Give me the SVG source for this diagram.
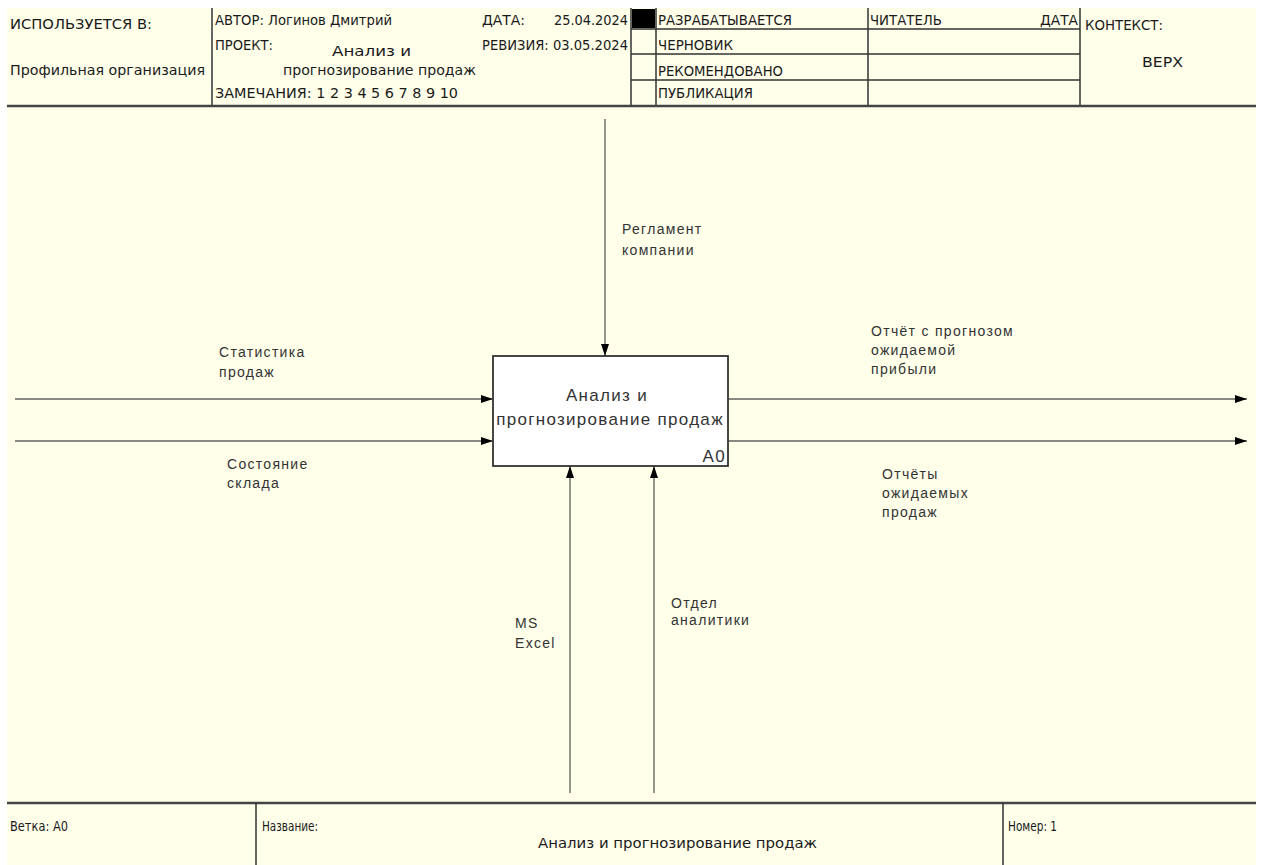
<svg xmlns="http://www.w3.org/2000/svg" width="1261" height="865" viewBox="0 0 1261 865">
<defs>
<marker id="arr" viewBox="0 0 12 8" refX="12" refY="4" markerWidth="12" markerHeight="8" markerUnits="userSpaceOnUse" orient="auto"><path d="M0,0 L12,4 L0,8 z" fill="#000"/></marker>
</defs>
<style>
.hdr{font-family:"DejaVu Sans",sans-serif;font-size:14px;fill:#1a1a1a}
.ftr{font-family:"DejaVu Sans",sans-serif;font-size:14.5px;fill:#1a1a1a}
.lbl{font-family:"Liberation Sans",Arial,sans-serif;font-size:14px;letter-spacing:1.3px;fill:#333}
.boxt{font-family:"Liberation Sans",Arial,sans-serif;font-size:17px;letter-spacing:1.3px;fill:#333}
.frame{stroke:#333;stroke-width:1.5;fill:none}
.thick{stroke:#444;stroke-width:2.5;fill:none}
.conn{stroke:#8a8a82;stroke-width:1.8;fill:none}
</style>
<rect x="0" y="0" width="1261" height="865" fill="#ffffff"/>
<rect x="7" y="8" width="1249" height="857" fill="#FFFFEA"/>

<g id="header">
  <line class="frame" x1="212" y1="8" x2="212" y2="106"/>
  <line class="frame" x1="631" y1="8" x2="631" y2="106"/>
  <line class="frame" x1="656" y1="8" x2="656" y2="106"/>
  <line class="frame" x1="868" y1="8" x2="868" y2="106"/>
  <line class="frame" x1="1080" y1="8" x2="1080" y2="106"/>
  <line class="frame" x1="631" y1="29" x2="1080" y2="29"/>
  <line class="frame" x1="631" y1="54" x2="1080" y2="54"/>
  <line class="frame" x1="631" y1="80" x2="1080" y2="80"/>
  <rect x="632" y="9" width="23" height="19" fill="#000"/>
  <line class="thick" x1="7" y1="106" x2="1256" y2="106"/>
  <text class="hdr" x="10" y="29" textLength="142" lengthAdjust="spacingAndGlyphs">ИСПОЛЬЗУЕТСЯ В:</text>
  <text class="hdr" x="10" y="75" textLength="195" lengthAdjust="spacingAndGlyphs">Профильная организация</text>
  <text class="hdr" x="215" y="25" textLength="177" lengthAdjust="spacingAndGlyphs">АВТОР: Логинов Дмитрий</text>
  <text class="hdr" x="215" y="50" textLength="58" lengthAdjust="spacingAndGlyphs">ПРОЕКТ:</text>
  <text class="hdr" x="332" y="56" textLength="79" lengthAdjust="spacingAndGlyphs">Анализ и</text>
  <text class="hdr" x="283" y="75" textLength="193" lengthAdjust="spacingAndGlyphs">прогнозирование продаж</text>
  <text class="hdr" x="215" y="98" textLength="243" lengthAdjust="spacingAndGlyphs">ЗАМЕЧАНИЯ:  1 2 3 4 5 6 7 8 9 10</text>
  <text class="hdr" x="482" y="25" textLength="43" lengthAdjust="spacingAndGlyphs">ДАТА:</text>
  <text class="hdr" x="554" y="25" textLength="74" lengthAdjust="spacingAndGlyphs">25.04.2024</text>
  <text class="hdr" x="482" y="50" textLength="146" lengthAdjust="spacingAndGlyphs">РЕВИЗИЯ: 03.05.2024</text>
  <text class="hdr" x="658" y="25" textLength="134" lengthAdjust="spacingAndGlyphs">РАЗРАБАТЫВАЕТСЯ</text>
  <text class="hdr" x="658" y="50" textLength="75" lengthAdjust="spacingAndGlyphs">ЧЕРНОВИК</text>
  <text class="hdr" x="658" y="76" textLength="125" lengthAdjust="spacingAndGlyphs">РЕКОМЕНДОВАНО</text>
  <text class="hdr" x="658" y="98" textLength="95" lengthAdjust="spacingAndGlyphs">ПУБЛИКАЦИЯ</text>
  <text class="hdr" x="870" y="25" textLength="72" lengthAdjust="spacingAndGlyphs">ЧИТАТЕЛЬ</text>
  <text class="hdr" x="1040" y="25" textLength="38" lengthAdjust="spacingAndGlyphs">ДАТА</text>
  <text class="hdr" x="1085" y="30" textLength="78" lengthAdjust="spacingAndGlyphs">КОНТЕКСТ:</text>
  <text class="hdr" x="1142" y="67" textLength="41" lengthAdjust="spacingAndGlyphs">ВЕРХ</text>
</g>

<g id="footer">
  <line class="thick" x1="7" y1="803" x2="1256" y2="803"/>
  <line class="frame" x1="256" y1="803" x2="256" y2="865"/>
  <line class="frame" x1="1003" y1="803" x2="1003" y2="865"/>
  <text class="ftr" x="10" y="831" textLength="58" lengthAdjust="spacingAndGlyphs">Ветка: A0</text>
  <text class="ftr" x="262" y="831" textLength="56" lengthAdjust="spacingAndGlyphs">Название:</text>
  <text class="ftr" x="538" y="848" textLength="279" lengthAdjust="spacingAndGlyphs">Анализ и прогнозирование продаж</text>
  <text class="ftr" x="1008" y="831" textLength="49" lengthAdjust="spacingAndGlyphs">Номер: 1</text>
</g>

<g id="connectors">
  <line class="conn" x1="605" y1="119" x2="605" y2="356" marker-end="url(#arr)"/>
  <line class="conn" x1="15" y1="399" x2="493" y2="399" marker-end="url(#arr)"/>
  <line class="conn" x1="15" y1="441" x2="493" y2="441" marker-end="url(#arr)"/>
  <line class="conn" x1="728" y1="399" x2="1247" y2="399" marker-end="url(#arr)"/>
  <line class="conn" x1="728" y1="441" x2="1247" y2="441" marker-end="url(#arr)"/>
  <line class="conn" x1="570" y1="793" x2="570" y2="466" marker-end="url(#arr)"/>
  <line class="conn" x1="654" y1="793" x2="654" y2="466" marker-end="url(#arr)"/>
  <g id="connector-labels">
    <text class="lbl" x="622" y="234">Регламент</text>
    <text class="lbl" x="622" y="255">компании</text>
    <text class="lbl" x="219" y="357">Статистика</text>
    <text class="lbl" x="219" y="377">продаж</text>
    <text class="lbl" x="227" y="469">Состояние</text>
    <text class="lbl" x="227" y="488">склада</text>
    <text class="lbl" x="871" y="336">Отчёт с прогнозом</text>
    <text class="lbl" x="871" y="355">ожидаемой</text>
    <text class="lbl" x="871" y="374">прибыли</text>
    <text class="lbl" x="882" y="479">Отчёты</text>
    <text class="lbl" x="882" y="498">ожидаемых</text>
    <text class="lbl" x="882" y="517">продаж</text>
    <text class="lbl" x="515" y="628">MS</text>
    <text class="lbl" x="515" y="648">Excel</text>
    <text class="lbl" x="671" y="608">Отдел</text>
    <text class="lbl" x="671" y="625">аналитики</text>
  </g>
</g>

<g id="node-A0">
  <rect x="493" y="356" width="235" height="110" fill="#ffffff" stroke="#333" stroke-width="1.8"/>
  <text class="boxt" x="607" y="401" text-anchor="middle">Анализ и</text>
  <text class="boxt" x="610" y="425" text-anchor="middle">прогнозирование продаж</text>
  <text class="boxt" x="726" y="462" text-anchor="end">A0</text>
</g>
</svg>
